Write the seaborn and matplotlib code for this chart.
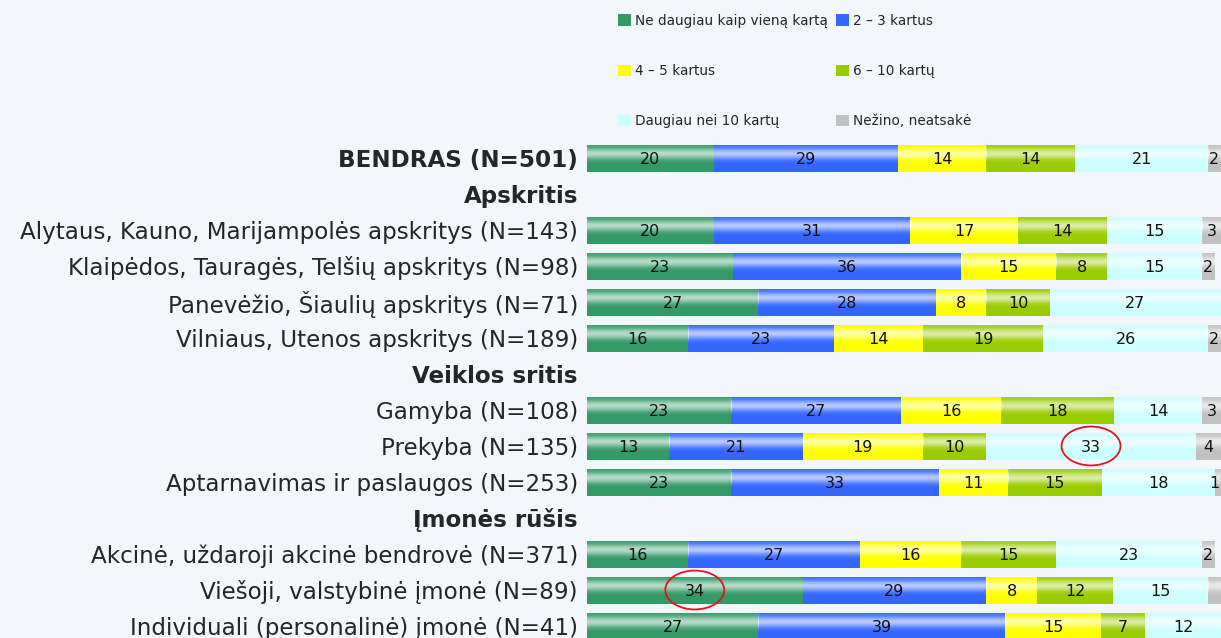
import numpy as np
import pandas as pd
import matplotlib
matplotlib.use("Agg")
from matplotlib import pyplot as plt
from matplotlib.patches import Ellipse, Patch
import seaborn as sns

# rows of the chart, top to bottom (section headers have no bars)
rows = ["BENDRAS (N=501)",
        "Apskritis",
        "Alytaus, Kauno, Marijampolės apskritys (N=143)",
        "Klaipėdos, Tauragės, Telšių apskritys (N=98)",
        "Panevėžio, Šiaulių apskritys (N=71)",
        "Vilniaus, Utenos apskritys (N=189)",
        "Veiklos sritis",
        "Gamyba (N=108)",
        "Prekyba (N=135)",
        "Aptarnavimas ir paslaugos (N=253)",
        "Įmonės rūšis",
        "Akcinė, uždaroji akcinė bendrovė (N=371)",
        "Viešoji, valstybinė įmonė (N=89)",
        "Individuali (personalinė) įmonė (N=41)"]
bold_rows = ["BENDRAS (N=501)", "Apskritis", "Veiklos sritis", "Įmonės rūšis"]
groups = [r for r in rows if r not in bold_rows[1:]]

series = ["Ne daugiau kaip vieną kartą", "2 – 3 kartus", "4 – 5 kartus",
          "6 – 10 kartų", "Daugiau nei 10 kartų", "Nežino, neatsakė"]
colors = ["#339966", "#3366FF", "#FFFF00", "#99CC00", "#CCFFFF", "#C0C0C0"]

once = [20, 20, 23, 27, 16, 23, 13, 23, 16, 34, 27]
two_three = [29, 31, 36, 28, 23, 27, 21, 33, 27, 29, 39]
four_five = [14, 17, 15, 8, 14, 16, 19, 11, 16, 8, 15]
six_ten = [14, 14, 8, 10, 19, 18, 10, 15, 15, 12, 7]
over_ten = [21, 15, 15, 27, 26, 14, 33, 18, 23, 15, 12]
dont_know = [2, 3, 2, 0, 2, 3, 4, 1, 2, 2, 0]

# values without a printed label, and circled values
hidden = [("Viešoji, valstybinė įmonė (N=89)", "Nežino, neatsakė")]
circled = [("Prekyba (N=135)", "Daugiau nei 10 kartų"),
           ("Viešoji, valstybinė įmonė (N=89)", "Ne daugiau kaip vieną kartą")]

values = [once, two_three, four_five, six_ten, over_ten, dont_know]
df = pd.DataFrame([(g, s, v[i]) for s, v in zip(series, values)
                   for i, g in enumerate(groups)],
                  columns=["group", "series", "value"])
# rows that add up to more than 100 (rounding) are squeezed to 100
total = df.groupby("group", sort=False)["value"].transform("sum")
df["width"] = df["value"] * 100 / total.clip(lower=100)
df["left"] = df.groupby("group", sort=False)["width"].cumsum() - df["width"]

bg = "#F3F6FB"
sns.set_theme(style="white")
plt.rcParams["font.family"] = ["DejaVu Sans"]

fig = plt.figure(figsize=(12.21, 6.38), dpi=100, facecolor=bg)
ax = fig.add_axes([587 / 1221, 0, 634 / 1221, 1])
ax.set_facecolor(bg)

# white glossy band across each bar
t = np.linspace(0, 1, 64)
alpha = 0.65 * np.exp(-((t - 0.35) / 0.2) ** 2)
grad = np.zeros((64, 1, 4))
grad[..., :3] = 1.0
grad[:, 0, 3] = alpha

for s, c in zip(series, colors):
    sub = df[df.series == s]
    n0 = len(ax.patches)
    sns.barplot(data=sub, x="width", y="group", order=rows, color=c,
                orient="h", width=0.75, saturation=1, ax=ax, linewidth=0)
    for p in ax.patches[n0:]:
        idx = int(round(p.get_y() + p.get_height() / 2))
        row = sub[sub.group == rows[idx]].iloc[0]
        p.set_x(row.left)
        x0, y0, w, h = row.left, p.get_y(), p.get_width(), p.get_height()
        if w > 0:
            ax.imshow(grad, extent=[x0, x0 + w, y0 + h, y0], aspect="auto",
                      zorder=p.get_zorder() + 0.1, interpolation="bilinear")
        if w > 0 and (rows[idx], s) not in hidden:
            ax.text(min(x0 + w / 2, 98.9), idx + 0.03, f"{int(row.value)}",
                    ha="center", va="center", fontsize=11.5,
                    color="#111111", zorder=5)
        if (rows[idx], s) in circled:
            ax.add_patch(Ellipse((x0 + w / 2, idx), 9.3, 1.08, fill=False,
                                 edgecolor="#E3141C", lw=1.3, zorder=6))

ax.set_xlim(0, 100)
ax.set_ylim((638 - 158) / 36, -158 / 36)
ax.set_xticks([])
ax.set_xlabel("")
ax.set_ylabel("")
ax.set_yticks(range(len(rows)))
ax.set_yticklabels(rows, fontsize=16.6)
for lab in ax.get_yticklabels():
    if lab.get_text() in bold_rows:
        lab.set_fontweight("bold")
ax.tick_params(axis="y", length=0, pad=6.5)
sns.despine(ax=ax, left=True, bottom=True)

handles = [Patch(facecolor=c, edgecolor="none") for c in colors]
order = [0, 2, 4, 1, 3, 5]
fig.legend([handles[i] for i in order], [series[i] for i in order],
           ncol=2, loc="upper left", bbox_to_anchor=(618 / 1221, 1 - 14 / 638),
           frameon=False, fontsize=9.8, handlelength=0.95, handleheight=0.95,
           handletextpad=0.3, labelspacing=2.65, columnspacing=0.6,
           borderpad=0, borderaxespad=0)

fig.savefig("out.png", dpi=100, facecolor=bg)
